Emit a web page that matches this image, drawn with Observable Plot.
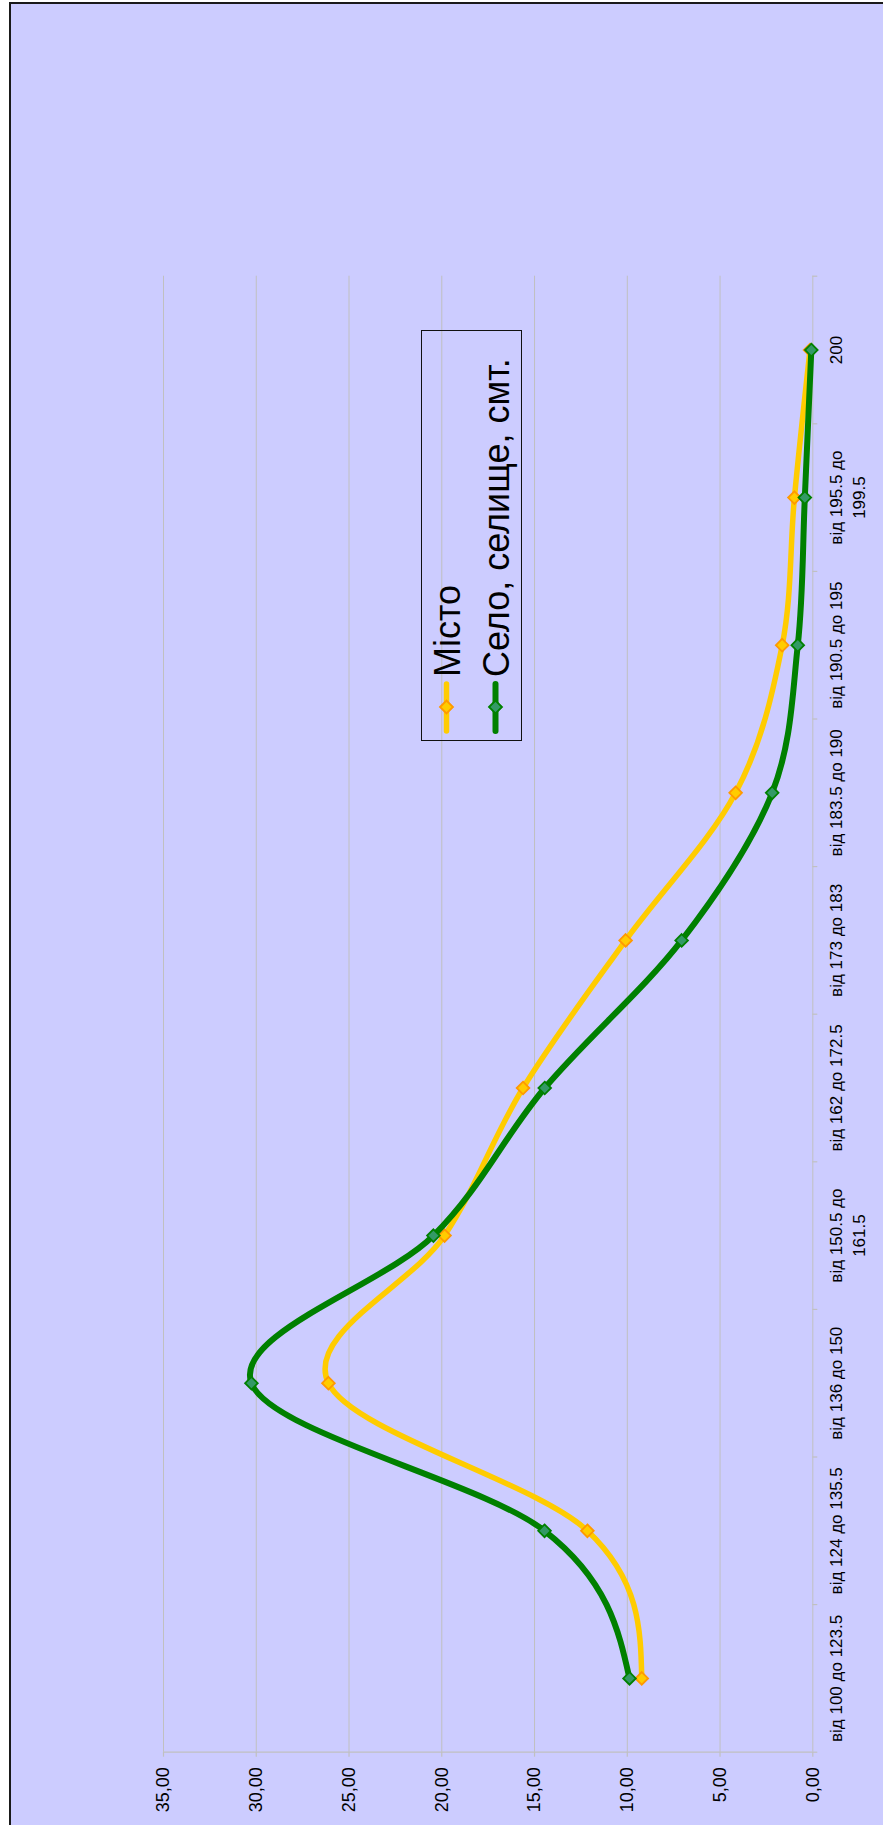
<!DOCTYPE html>
<html>
<head>
<meta charset="utf-8">
<script src="https://cdn.jsdelivr.net/npm/d3@7"></script>
<script src="https://cdn.jsdelivr.net/npm/@observablehq/plot@0.6"></script>
<style>
  body { margin: 0; background: #ffffff; }
  #wrap { position: relative; width: 883px; height: 1825px; overflow: hidden; font-family: "Liberation Sans", Arial, sans-serif; }
  #bg { position: absolute; left: 9px; top: 2px; right: -10px; bottom: -10px; background: #CCCCFF; border-left: 2px solid #1a1a1a; border-top: 2px solid #1a1a1a; }
  #chart { position: absolute; left: 0; top: 0; }
  #legend { position: absolute; left: 420.7px; top: 741px; width: 411px; height: 101px; box-sizing: border-box;
            border: 1.3px solid #111; transform-origin: 0 0; transform: rotate(-90deg); }
  .row { display: flex; align-items: center; height: 49px; }
  .row span { font-size: 36px; line-height: 36px; color: #000; margin-left: 3px; position: relative; top: 1px; white-space: nowrap; }
</style>
</head>
<body>
<div id="wrap">
  <div id="bg"></div>
  <div id="chart"></div>
  <div id="legend"></div>
</div>
<script>
// ---- data ----
const categories = [
  "від 100 до 123.5",
  "від 124 до 135.5",
  "від 136 до 150",
  "від 150.5 до\n161.5",
  "від 162 до 172.5",
  "від 173 до 183",
  "від 183.5 до 190",
  "від 190.5 до 195",
  "від 195.5 до\n199.5",
  "200"
];
const misto = [9.22, 12.15, 26.11, 19.85, 15.62, 10.09, 4.16, 1.65, 0.99, 0.15];
const selo  = [9.88, 14.46, 30.26, 20.45, 14.45, 7.07, 2.19, 0.81, 0.43, 0.08];
const valueTicks = [0, 5, 10, 15, 20, 25, 30, 35];
const seriesNames = ["Місто", "Село, селище, смт."];

// ---- styles ----
const gridColor = "#C0C0C0";
const yellow = {line: "#FFCC00", fill: "#FFCC00", stroke: "#FF9900", width: 5.5};
const green = {line: "#008000", fill: "#339966", stroke: "#008000", width: 6};

// Spreadsheet-style smoothed line: Catmull-Rom interior tangents, natural end tangents
function smoothCurve(context) {
  let pts;
  return {
    areaStart() {}, areaEnd() {},
    lineStart() { pts = []; },
    point(x, y) { pts.push([+x, +y]); },
    lineEnd() {
      const n = pts.length;
      if (!n) return;
      context.moveTo(pts[0][0], pts[0][1]);
      if (n === 1) return;
      if (n === 2) { context.lineTo(pts[1][0], pts[1][1]); return; }
      const T = pts.map((p, i) => (i > 0 && i < n - 1)
        ? [(pts[i + 1][0] - pts[i - 1][0]) / 2, (pts[i + 1][1] - pts[i - 1][1]) / 2] : null);
      T[0] = [0, 1].map(k => (3 * (pts[1][k] - pts[0][k]) - T[1][k]) / 2);
      T[n - 1] = [0, 1].map(k => (3 * (pts[n - 1][k] - pts[n - 2][k]) - T[n - 2][k]) / 2);
      for (let i = 0; i < n - 1; ++i) {
        const a = pts[i], b = pts[i + 1];
        context.bezierCurveTo(
          a[0] + T[i][0] / 3, a[1] + T[i][1] / 3,
          b[0] - T[i + 1][0] / 3, b[1] - T[i + 1][1] / 3,
          b[0], b[1]);
      }
    }
  };
}

const rows = categories.map((c, i) => ({i, cat: c, misto: misto[i], selo: selo[i]}));
const boundaries = d3.range(-0.5, categories.length, 1);
const fmt = d => d.toFixed(2).replace(".", ",");

const chart = Plot.plot({
  width: 883,
  height: 1825,
  marginLeft: 163,
  marginRight: 70.7,
  marginTop: 275.7,
  marginBottom: 73.3,
  style: {background: "transparent", fontFamily: "'Liberation Sans', Arial, sans-serif", overflow: "visible"},
  x: {domain: [0, 35], reverse: true, axis: null},
  y: {domain: [-0.5, categories.length - 0.5], axis: null},
  marks: [
    Plot.gridX(valueTicks, {stroke: gridColor, strokeOpacity: 1, strokeWidth: 1}),
    Plot.ruleY([-0.5], {stroke: gridColor, strokeWidth: 1.2}),
    Plot.ruleX(valueTicks, {x: d => d, y1: -0.5, y2: -0.5, insetBottom: -5, stroke: gridColor, strokeWidth: 1.2}),
    Plot.ruleY(boundaries, {y: d => d, x1: 0, x2: 0, insetRight: -5, stroke: gridColor, strokeWidth: 1.2}),
    Plot.text(valueTicks, {x: d => d, frameAnchor: "bottom", text: fmt, rotate: -90, textAnchor: "end",
      lineAnchor: "middle", dy: 15, fontSize: 18, fill: "#000"}),
    Plot.text(rows, {y: "i", text: "cat", frameAnchor: "right", dx: 14, rotate: -90, textAnchor: "middle",
      lineAnchor: "top", lineHeight: 1.3, fontSize: 17, fill: "#000"}),
    Plot.line(rows, {x: "misto", y: "i", stroke: yellow.line, strokeWidth: yellow.width, curve: smoothCurve}),
    Plot.dot(rows, {x: "misto", y: "i", symbol: "diamond2", r: 5.7, fill: yellow.fill, stroke: yellow.stroke, strokeWidth: 1.8}),
    Plot.line(rows, {x: "selo", y: "i", stroke: green.line, strokeWidth: green.width, curve: smoothCurve}),
    Plot.dot(rows, {x: "selo", y: "i", symbol: "diamond2", r: 5.7, fill: green.fill, stroke: green.stroke, strokeWidth: 1.8})
  ]
});
document.getElementById("chart").appendChild(chart);

// ---- legend (rotated box, as in the reference) ----
const legend = document.getElementById("legend");
[[seriesNames[0], yellow], [seriesNames[1], green]].forEach(([name, s]) => {
  const row = document.createElement("div");
  row.className = "row";
  row.innerHTML =
    `<svg width="60" height="49" style="flex:none">
       <line x1="9" x2="56" y1="24.5" y2="24.5" stroke="${s.line}" stroke-width="${s.width}" stroke-linecap="round"/>
       <path d="M33,18 L39.5,24.5 L33,31 L26.5,24.5 Z" fill="${s.fill}" stroke="${s.stroke}" stroke-width="1.8"/>
     </svg><span>${name}</span>`;
  legend.appendChild(row);
});
</script>
</body>
</html>
